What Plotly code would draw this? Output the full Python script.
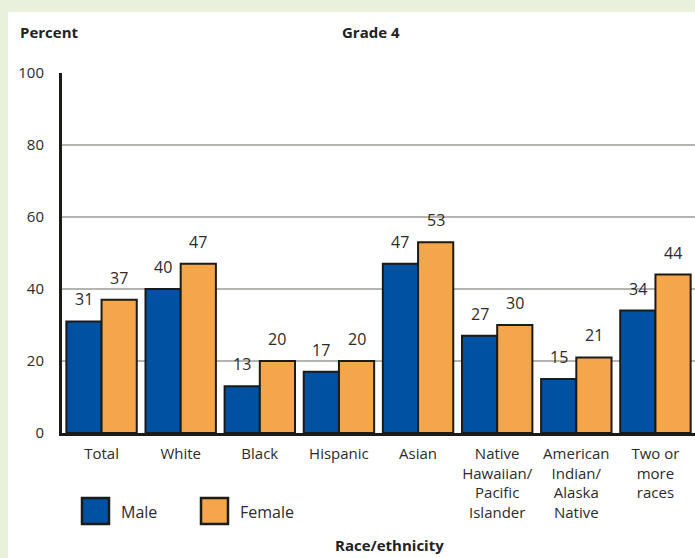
import plotly.graph_objects as go

categories = ["Total", "White", "Black", "Hispanic", "Asian",
              "Native<br>Hawaiian/<br>Pacific<br>Islander",
              "American<br>Indian/<br>Alaska<br>Native",
              "Two or<br>more<br>races"]
male = [31, 40, 13, 17, 47, 27, 15, 34]
female = [37, 47, 20, 20, 53, 30, 21, 44]
y_ticks = [0, 20, 40, 60, 80, 100]

W, H = 695, 558
L, R, T, B = 62, 0, 73, 125
PW, PH = W - L - R, H - T - B

def px(x):
    return (x - L) / PW

def py(y):
    return (H - B - y) / PH

BLUE = "#0051A2"
ORANGE = "#F5A54A"
EDGE = "#1b1b17"
TXT = "#2b2b2b"
FONT = "Open Sans"
GAP = 0.11

fig = go.Figure()
fig.add_trace(go.Bar(x=categories, y=male, name="Male",
                     marker=dict(color=BLUE, line=dict(color=EDGE, width=2))))
fig.add_trace(go.Bar(x=categories, y=female, name="Female",
                     marker=dict(color=ORANGE, line=dict(color=EDGE, width=2))))

off = (1 - GAP) / 4 * PW / len(categories)
annotations = []
for c, m, f in zip(categories, male, female):
    for v, s in ((m, -off), (f, off)):
        annotations.append(dict(x=c, y=v, xref="x", yref="y", text=str(v),
                                showarrow=False, xshift=s, yanchor="bottom", yshift=9,
                                font=dict(family=FONT, size=16, color=TXT)))

annotations += [
    dict(x=px(18), y=py(32), xref="paper", yref="paper", text="<b>Percent</b>",
         showarrow=False, xanchor="left", yanchor="middle",
         font=dict(family=FONT, size=15, color="#222222")),
    dict(x=px(371), y=py(32), xref="paper", yref="paper", text="<b>Grade 4</b>",
         showarrow=False, xanchor="center", yanchor="middle",
         font=dict(family=FONT, size=15, color="#222222")),
    dict(x=px(390), y=py(545), xref="paper", yref="paper", text="<b>Race/ethnicity</b>",
         showarrow=False, xanchor="center", yanchor="middle",
         font=dict(family=FONT, size=15, color="#222222")),
    dict(x=px(119), y=py(512), xref="paper", yref="paper", text="Male",
         showarrow=False, xanchor="left", yanchor="middle",
         font=dict(family=FONT, size=16, color=TXT)),
    dict(x=px(238), y=py(512), xref="paper", yref="paper", text="Female",
         showarrow=False, xanchor="left", yanchor="middle",
         font=dict(family=FONT, size=16, color=TXT)),
]

GREEN = "#E9F0DC"
shapes = [
    dict(type="rect", xref="paper", yref="paper", x0=px(0), x1=px(8), y0=py(H), y1=py(0),
         fillcolor=GREEN, line=dict(width=0), layer="below"),
    dict(type="rect", xref="paper", yref="paper", x0=px(0), x1=px(W), y0=py(12), y1=py(0),
         fillcolor=GREEN, line=dict(width=0), layer="below"),
    dict(type="rect", xref="paper", yref="paper", x0=px(82), x1=px(109), y0=py(524), y1=py(498),
         fillcolor=BLUE, line=dict(color=EDGE, width=2.5)),
    dict(type="rect", xref="paper", yref="paper", x0=px(201), x1=px(228), y0=py(524), y1=py(498),
         fillcolor=ORANGE, line=dict(color=EDGE, width=2.5)),
]

fig.update_layout(
    width=W, height=H,
    margin=dict(l=L, r=R, t=T, b=B),
    paper_bgcolor="white", plot_bgcolor="white",
    barmode="group", bargap=GAP, bargroupgap=0,
    showlegend=False,
    annotations=annotations, shapes=shapes,
    font=dict(family=FONT, size=14, color=TXT),
    xaxis=dict(type="category", range=[-0.5, len(categories) - 0.5],
               showline=True, linecolor=EDGE, linewidth=3,
               showgrid=False, ticks="", tickangle=0,
               tickfont=dict(family=FONT, size=15, color=TXT), ticklabelstandoff=5),
    yaxis=dict(range=[0, 100], tickvals=y_ticks, showline=True, linecolor=EDGE, linewidth=3,
               showgrid=True, gridcolor="#b4b4b0", gridwidth=1.5, zeroline=False,
               ticks="", ticklabelstandoff=12,
               tickfont=dict(family=FONT, size=15, color=TXT)),
)

fig.write_html("out.html", config={"displayModeBar": False},
               post_script="document.body.style.margin='0';document.body.style.padding='0';")
